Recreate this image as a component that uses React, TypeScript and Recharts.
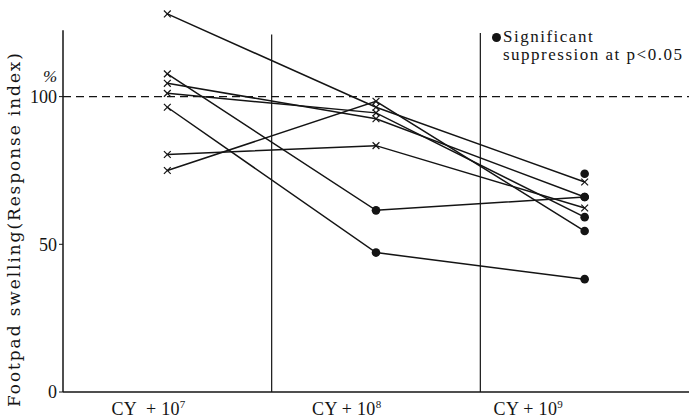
import { Line, LineChart, ReferenceLine, XAxis, YAxis } from "recharts";

const doseLabels = ["CY  + 10", "CY + 10", "CY + 10"];
const doseExponents = ["7", "8", "9"];
const doseX = [0.5, 1.5, 2.5];
const labelX = [0.41, 1.36, 2.23];
const yTicks = [0, 50, 100];

// response index per animal group, at 10^7, 10^8, 10^9
const groupA = [128, 96.4, 71.1];
const groupB = [101.1, 94.5, 59.2];
const groupC = [104.5, 92.5, 66.0];
const groupD = [80.4, 83.4, 62.3];
const groupE = [75, 98.4, 54.5];
const groupF = [107.7, 61.5, 66.0];
const groupG = [96.4, 47.2, 38.2];
const groupH = [null, null, 73.9];

// significant suppression (p<0.05) flags
const sigA = [false, false, false];
const sigB = [false, false, true];
const sigC = [false, false, true];
const sigD = [false, false, false];
const sigE = [false, false, true];
const sigF = [false, true, true];
const sigG = [false, true, true];
const sigH = [false, false, true];

const groups = [
  { id: "A", values: groupA, sig: sigA },
  { id: "B", values: groupB, sig: sigB },
  { id: "C", values: groupC, sig: sigC },
  { id: "D", values: groupD, sig: sigD },
  { id: "E", values: groupE, sig: sigE },
  { id: "F", values: groupF, sig: sigF },
  { id: "G", values: groupG, sig: sigG },
  { id: "H", values: groupH, sig: sigH },
];

const INK = "#141414";
const FONT = "'Liberation Serif', 'DejaVu Serif', serif";

function toRows(values: (number | null)[], sig: boolean[]) {
  return values
    .map((v, i) => ({ x: doseX[i], y: v, sig: sig[i] }))
    .filter((r) => r.y !== null);
}

function Marker(props: any) {
  const { cx, cy, payload, index } = props;
  if (cx == null || cy == null) return <g key={index} />;
  if (payload.sig) {
    return <circle key={index} cx={cx} cy={cy} r={4.3} fill={INK} />;
  }
  const s = 3.4;
  return (
    <g key={index} stroke={INK} strokeWidth={1.2}>
      <line x1={cx - s} y1={cy - s} x2={cx + s} y2={cy + s} />
      <line x1={cx - s} y1={cy + s} x2={cx + s} y2={cy - s} />
    </g>
  );
}

function DoseTick(props: any) {
  const { x, y, index } = props;
  return (
    <text
      x={x}
      y={y}
      dy={21}
      textAnchor="middle"
      fontFamily={FONT}
      fontSize={18}
      fill={INK}
      letterSpacing={0.3}
      style={{ whiteSpace: "pre" }}
    >
      {doseLabels[index]}
      <tspan dy={-7} fontSize={11}>
        {doseExponents[index]}
      </tspan>
    </text>
  );
}

function AxisTitle() {
  return (
    <g fill={INK}>
      <text
        x={14}
        y={230}
        transform="rotate(-90 14 230)"
        textAnchor="middle"
        dominantBaseline="central"
        fontFamily="'DejaVu Serif', serif"
        fontSize={17}
        textLength={354}
        lengthAdjust="spacing"
      >
        Footpad swelling(Response index)
      </text>
      <text x={50} y={82} textAnchor="middle" fontFamily={FONT} fontSize={17} fontStyle="italic">
        %
      </text>
    </g>
  );
}

function SigLegend() {
  return (
    <div
      style={{
        position: "absolute",
        left: 488,
        top: 28,
        fontFamily: FONT,
        fontSize: 17,
        letterSpacing: 1.5,
        color: INK,
        lineHeight: "18px",
        whiteSpace: "nowrap",
      }}
    >
      <div style={{ position: "relative", paddingLeft: 15 }}>
        <span
          style={{
            position: "absolute",
            left: 4,
            top: 5,
            width: 9,
            height: 9,
            borderRadius: 5,
            background: INK,
          }}
        />
        Significant
      </div>
      <div style={{ paddingLeft: 15 }}>suppression at p&lt;0.05</div>
    </div>
  );
}

export default function App() {
  return (
    <div style={{ position: "absolute", left: 0, top: 0, width: 689, height: 418, background: "#fff" }}>
      <LineChart
        width={689}
        height={418}
        margin={{ top: 8, right: 0, left: 13, bottom: 0 }}
      >
        <XAxis
          dataKey="x"
          type="number"
          domain={[0, 3]}
          ticks={labelX}
          tick={<DoseTick />}
          tickLine={false}
          tickSize={0}
          height={26}
          stroke={INK}
          strokeWidth={1.5}
        />
        <YAxis
          type="number"
          domain={[0, 130]}
          ticks={yTicks}
          width={50}
          axisLine={false}
          tickSize={4}
          tickMargin={2}
          tickLine={{ stroke: INK }}
          tick={{ fontSize: 18, fill: INK, fontFamily: FONT }}
          label={{ content: () => <AxisTitle /> }}
        />
        <ReferenceLine
          segment={[
            { x: 0, y: 0 },
            { x: 0, y: 122.5 },
          ]}
          stroke={INK}
          strokeWidth={1.5}
        />
        <ReferenceLine
          segment={[
            { x: 1, y: 0 },
            { x: 1, y: 121 },
          ]}
          stroke={INK}
          strokeWidth={1.2}
        />
        <ReferenceLine
          segment={[
            { x: 2, y: 0 },
            { x: 2, y: 121.5 },
          ]}
          stroke={INK}
          strokeWidth={1.2}
        />
        <ReferenceLine y={100} stroke={INK} strokeWidth={1.2} strokeDasharray="8 5" />
        {groups.map((g) => (
          <Line
            key={g.id}
            data={toRows(g.values, g.sig)}
            dataKey="y"
            type="linear"
            stroke={INK}
            strokeWidth={1.5}
            dot={Marker}
            activeDot={false}
            legendType="none"
            isAnimationActive={false}
          />
        ))}
      </LineChart>
      <SigLegend />
    </div>
  );
}
